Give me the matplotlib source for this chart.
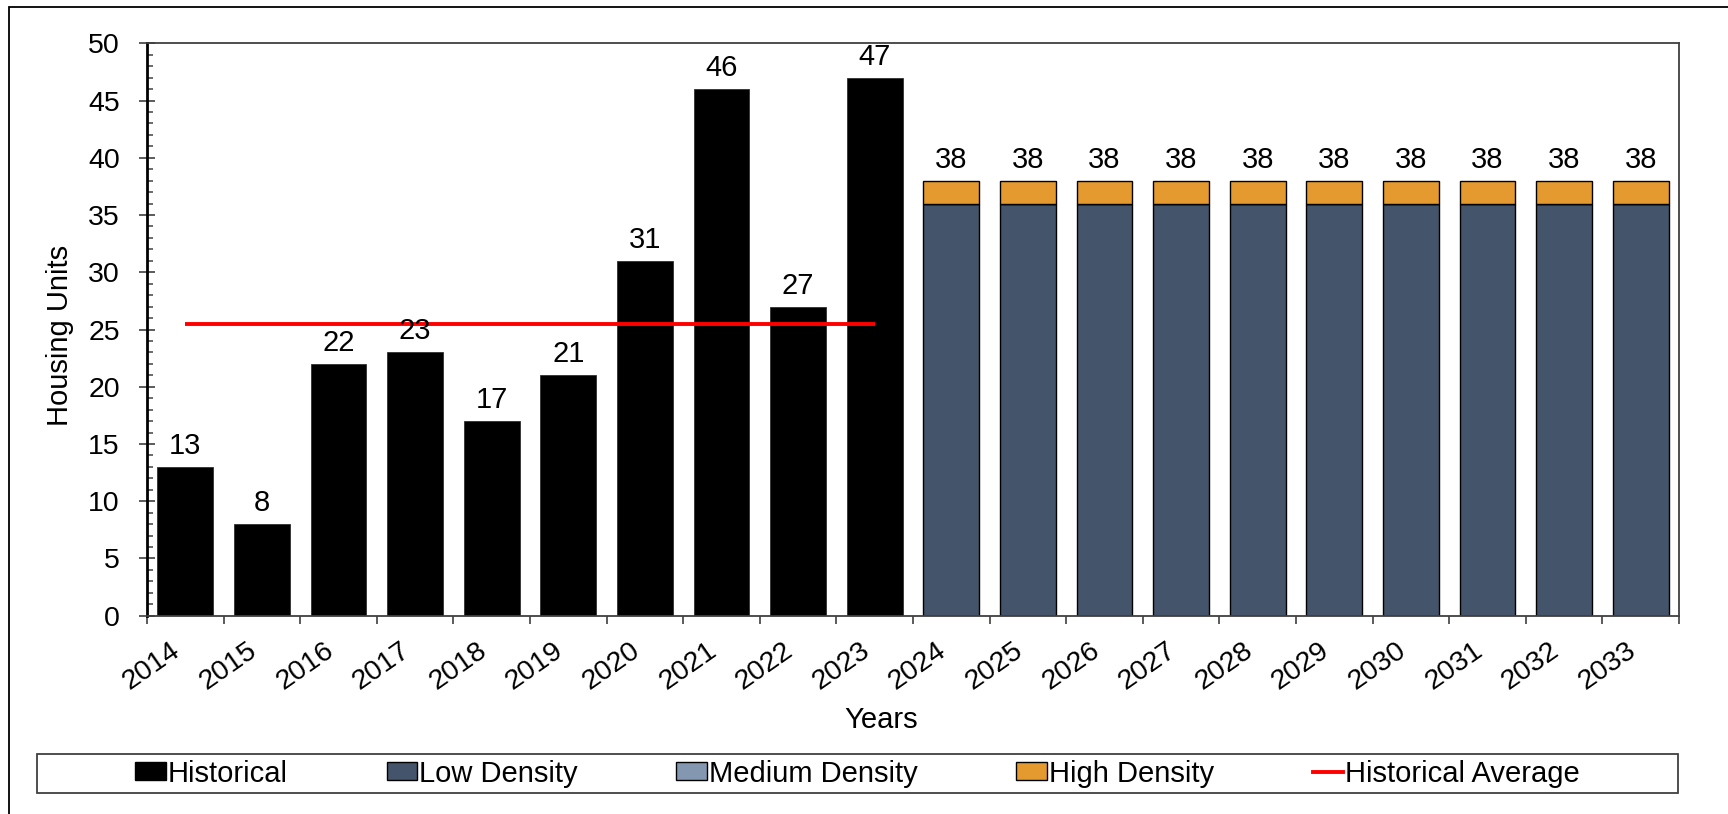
import matplotlib
matplotlib.use("Agg")
import matplotlib.pyplot as plt
from matplotlib.patches import Rectangle, Patch
from matplotlib.lines import Line2D
import numpy as np

plt.rcParams['font.family'] = ['Liberation Sans', 'DejaVu Sans']

# data
hist_years = ['2014', '2015', '2016', '2017', '2018', '2019', '2020', '2021', '2022', '2023']
hist_units = [13, 8, 22, 23, 17, 21, 31, 46, 27, 47]
proj_years = ['2024', '2025', '2026', '2027', '2028', '2029', '2030', '2031', '2032', '2033']
low_density = [36, 36, 36, 36, 36, 36, 36, 36, 36, 36]
medium_density = [0, 0, 0, 0, 0, 0, 0, 0, 0, 0]
high_density = [2, 2, 2, 2, 2, 2, 2, 2, 2, 2]

c_hist = 'black'
c_low = '#44546A'
c_med = '#8497B0'
c_high = '#E49A2F'
c_avg = '#FF0000'
fs = 21
fs_tick = 20.5

W, H = 1728, 814
fig = plt.figure(figsize=(W / 100, H / 100), dpi=100)
ax = fig.add_axes([147 / W, 1 - 615.7 / H, 1532 / W, (615.7 - 43.3) / H])

years = hist_years + proj_years
x_hist = np.arange(len(hist_years))
x_proj = np.arange(len(hist_years), len(years))
bw = 0.73

b_hist = ax.bar(x_hist, hist_units, width=bw, color=c_hist, edgecolor='#303030', linewidth=0.6)
low = np.array(low_density)
med = np.array(medium_density)
high = np.array(high_density)
ax.bar(x_proj, low, width=bw, color=c_low, edgecolor='black', linewidth=1)
ax.bar(x_proj, med, bottom=low, width=bw, color=c_med, edgecolor='black', linewidth=1)
b_top = ax.bar(x_proj, high, bottom=low + med, width=bw, color=c_high, edgecolor='black', linewidth=1)

ax.bar_label(b_hist, labels=[str(v) for v in hist_units], padding=5, fontsize=fs)
totals = low + med + high
ax.bar_label(b_top, labels=[str(v) for v in totals], padding=5, fontsize=fs)

avg = np.mean(hist_units)
ax.plot([x_hist[0], x_hist[-1]], [avg, avg], color=c_avg, linewidth=2.8, solid_capstyle='butt')

ax.set_xlim(-0.5, len(years) - 0.5)
ax.set_ylim(0, 50)
ax.set_yticks(np.arange(0, 51, 5))
ax.set_yticks(np.arange(0, 51, 1), minor=True)
ax.tick_params(axis='y', which='major', direction='inout', length=11, width=1.2,
               color='#404040', labelsize=fs_tick, pad=14)
ax.tick_params(axis='y', which='minor', direction='in', length=4.5, width=1.2, color='#505050')

ax.set_xticks(np.arange(len(years)))
ax.set_xticklabels(years, rotation=35, ha='right', va='top', rotation_mode='default')
ax.set_xticks(np.arange(-0.5, len(years)), minor=True)
ax.tick_params(axis='x', which='major', length=0, labelsize=fs_tick, pad=15.5)
ax.tick_params(axis='x', which='minor', direction='out', length=6, width=1.2, color='#404040')

for s in ['top', 'right', 'bottom']:
    ax.spines[s].set_color('#404040')
    ax.spines[s].set_linewidth(1.3)
ax.spines['left'].set_color('black')
ax.spines['left'].set_linewidth(2)

ax.set_ylabel('Housing Units', fontsize=fs)
ax.yaxis.set_label_coords(-0.0475, 0.49)
ax.set_xlabel('Years', fontsize=fs)
ax.xaxis.set_label_coords(0.479, -0.158)

handles = [
    Patch(facecolor=c_hist, edgecolor='black', linewidth=1),
    Patch(facecolor=c_low, edgecolor='black', linewidth=1),
    Patch(facecolor=c_med, edgecolor='black', linewidth=1),
    Patch(facecolor=c_high, edgecolor='black', linewidth=1),
    Line2D([0], [0], color=c_avg, linewidth=2.8),
]
names = ['Historical', 'Low Density', 'Medium Density', 'High Density', 'Historical Average']
fig.legend(handles, names, loc='center', bbox_to_anchor=(857.5 / W, 1 - 773.5 / H),
           ncol=5, frameon=False, fontsize=fs, handlelength=1.05, handleheight=0.58,
           handletextpad=0.05, columnspacing=3.4)

# legend box and outer border
fig.add_artist(Rectangle((37 / W, 1 - 793 / H), (1678 - 37) / W, 39 / H,
                         transform=fig.transFigure, fill=False, edgecolor='#404040', linewidth=1.3))
fig.add_artist(Rectangle((9 / W, -0.1), 1.2, 0.1 + (814 - 7) / H,
                         transform=fig.transFigure, fill=False, edgecolor='black', linewidth=1.3))

fig.savefig('out.png', dpi=100)
